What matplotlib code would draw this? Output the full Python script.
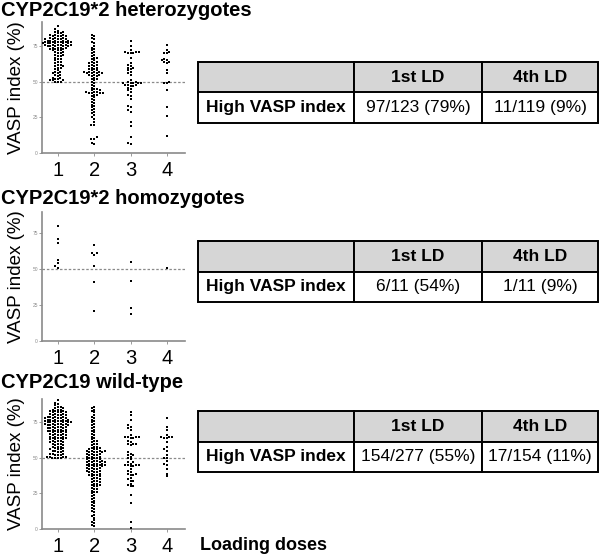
import numpy as np
import pandas as pd
import matplotlib
matplotlib.use("Agg")
import matplotlib.pyplot as plt
import seaborn as sns

plt.rcParams['font.family'] = ['Liberation Sans', 'DejaVu Sans']

doses = [1, 2, 3, 4]
titles = ["CYP2C19*2 heterozygotes", "CYP2C19*2 homozygotes", "CYP2C19 wild-type"]

het_d1 = [89, 87, 86, 85, 85, 84, 84, 83, 83, 83, 82, 82, 82, 82, 81, 81, 81, 80, 80, 80, 80, 80,
          79, 79, 79, 79, 79, 78, 78, 78, 78, 78, 78, 77, 77, 77, 77, 77, 77, 76, 76, 76, 76, 76, 76,
          75, 75, 75, 75, 75, 74, 74, 74, 74, 73, 73, 73, 72, 72, 72, 71, 71, 70, 70, 69, 69, 68, 68,
          67, 66, 66, 65, 64, 64, 63, 62, 62, 61, 61, 60, 60, 59, 58, 57, 57, 56, 56, 55, 55, 54, 53,
          53, 52, 52, 51, 51, 51, 50, 50, 50]
het_d2 = [83, 82, 81, 80, 78, 77, 75, 74, 73, 72, 71, 70, 69, 68, 67, 67, 66, 65, 64, 64, 63, 63,
          62, 62, 61, 61, 60, 60, 59, 59, 58, 58, 57, 57, 57, 57, 56, 56, 56, 56, 55, 55, 55, 54, 54,
          53, 52, 52, 51, 50, 49, 48, 47, 46, 45, 45, 44, 44, 43, 43, 43, 42, 42, 42, 42, 41, 41, 40,
          39, 38, 37, 36, 35, 34, 33, 32, 31, 30, 29, 28, 27, 25, 24, 22, 20, 20, 11, 10, 10, 7, 6]
het_d3 = [79, 75, 72, 71, 71, 71, 70, 70, 70, 67, 63, 62, 61, 60, 60, 59, 58, 57, 56, 55, 51, 50,
          50, 49, 49, 49, 49, 49, 48, 48, 48, 47, 47, 46, 45, 44, 43, 41, 40, 38, 33, 32, 30, 29, 22,
          19, 11, 7, 6]
het_d4 = [76, 72, 71, 70, 70, 66, 65, 65, 64, 64, 63, 58, 56, 50, 49, 49, 44, 32, 26, 12]

hom_d1 = [80, 71, 68, 56, 54, 52, 51]
hom_d2 = [67, 61, 61, 60, 52, 41, 21]
hom_d3 = [55, 42, 23, 19]
hom_d4 = [51]

wt_d1 = [91, 89, 88, 87, 86, 86, 85, 85, 84, 84, 84, 83, 83, 83, 82, 82, 82, 82, 81, 81, 81, 80,
         80, 80, 80, 79, 79, 79, 79, 78, 78, 78, 78, 78, 77, 77, 77, 77, 77, 76, 76, 76, 76, 76, 75,
         75, 75, 75, 75, 75, 74, 74, 74, 74, 74, 73, 73, 73, 73, 73, 72, 72, 72, 72, 71, 71, 71, 71,
         70, 70, 70, 70, 69, 69, 69, 69, 68, 68, 68, 68, 67, 67, 67, 66, 66, 66, 66, 65, 65, 65, 64,
         64, 64, 64, 63, 63, 63, 62, 62, 62, 61, 61, 61, 60, 60, 60, 59, 59, 58, 58, 58, 57, 57, 56,
         56, 56, 55, 55, 55, 54, 54, 53, 53, 53, 52, 52, 52, 51, 51, 51, 51, 50, 50, 50, 50]
wt_d2 = [86, 85, 84, 83, 82, 80, 79, 78, 77, 76, 75, 74, 73, 72, 71, 70, 69, 68, 67, 66, 65, 64,
         63, 62, 62, 61, 60, 60, 59, 58, 58, 57, 57, 56, 56, 56, 55, 55, 55, 55, 54, 54, 54, 54, 53,
         53, 53, 52, 52, 52, 51, 51, 51, 50, 50, 50, 49, 49, 49, 48, 48, 48, 48, 47, 47, 47, 47, 46,
         46, 46, 46, 45, 45, 45, 45, 44, 44, 44, 44, 43, 43, 43, 42, 42, 42, 41, 41, 41, 40, 40, 40,
         39, 39, 38, 38, 38, 37, 37, 36, 36, 35, 35, 34, 34, 33, 33, 32, 32, 31, 31, 30, 30, 29, 28,
         28, 27, 26, 26, 25, 24, 23, 22, 21, 20, 19, 18, 17, 16, 15, 14, 13, 12, 10, 9, 8, 6, 5, 4,
         3, 2]
wt_d3 = [82, 80, 77, 73, 72, 71, 70, 66, 65, 65, 65, 65, 64, 64, 62, 61, 60, 60, 60, 59, 54, 53,
         52, 52, 51, 50, 49, 47, 47, 46, 45, 45, 45, 45, 44, 44, 42, 41, 40, 39, 39, 38, 38, 36, 35,
         34, 34, 32, 31, 30, 30, 24, 18, 5, 1]
wt_d4 = [78, 72, 70, 66, 65, 65, 65, 64, 64, 61, 58, 56, 55, 52, 50, 50, 48, 46, 45, 42, 39, 37]

groups = [
    [het_d1, het_d2, het_d3, het_d4],
    [hom_d1, hom_d2, hom_d3, hom_d4],
    [wt_d1, wt_d2, wt_d3, wt_d4],
]

table_header = ["", "1st LD", "4th LD"]
row_label = "High VASP index"
table_first = ["97/123 (79%)", "6/11 (54%)", "154/277 (55%)"]
table_fourth = ["11/119 (9%)", "1/11 (9%)", "17/154 (11%)"]

yticks = [0, 25, 50, 75]
threshold = 50

W, H = 600, 555
fig = plt.figure(figsize=(W / 100, H / 100), dpi=100)

# pixel layout: (axis top, axis bottom, ymax, title y, table top, table bottom)
layouts = [
    (22, 153, 92, 10, 62, 123),
    (212, 341, 89.6, 199, 241, 302),
    (399, 529, 91.5, 382, 411, 472),
]
ax_left, ax_right = 42, 185
gray = "#8a8a8a"

for k, (top, bot, ymax, ty, tt, tb) in enumerate(layouts):
    ax = fig.add_axes([ax_left / W, 1 - bot / H, (ax_right - ax_left) / W, (bot - top) / H])
    xs, ys = [], []
    for d, vals in zip(doses, groups[k]):
        xs += [d] * len(vals)
        ys += vals
    df = pd.DataFrame({"dose": xs, "vasp": ys})
    sns.swarmplot(data=df, x="dose", y="vasp", order=doses, ax=ax, color="black",
                  size=2.0, marker="s", linewidth=0, warn_thresh=1.0)
    ax.set_xlim(-0.44, 3.5)
    ax.set_ylim(0, ymax)
    ax.axhline(threshold, color=gray, lw=0.9, ls=(0, (2, 1.5)))
    for s in ["top", "right"]:
        ax.spines[s].set_visible(False)
    for s in ["left", "bottom"]:
        ax.spines[s].set_color(gray)
        ax.spines[s].set_linewidth(1.2)
    ax.set_yticks(yticks)
    ax.set_yticklabels([str(t) for t in yticks], fontsize=3.5, color=gray)
    ax.tick_params(axis="y", length=2, width=0.6, color=gray, pad=1)
    ax.set_xticks(range(4))
    ax.set_xticklabels([str(d) for d in doses], fontsize=14.5)
    ax.tick_params(axis="x", length=2, width=0.6, color=gray, pad=4)
    ax.set_xlabel("")
    ax.set_ylabel("VASP index (%)", fontsize=13.5, labelpad=5)
    ax.set_facecolor("none")

    fig.text(1 / W, 1 - ty / H, titles[k], fontsize=14.5, fontweight="bold", va="center", ha="left")

    tax = fig.add_axes([198 / W, 1 - tb / H, 400 / W, (tb - tt) / H])
    tax.axis("off")
    tbl = tax.table(cellText=[table_header, [row_label, table_first[k], table_fourth[k]]],
                    cellLoc="center", bbox=[0, 0, 1, 1],
                    colWidths=[156, 128, 116])
    tbl.auto_set_font_size(False)
    for (r, c), cell in tbl.get_celld().items():
        cell.set_linewidth(1.4)
        cell.set_edgecolor("black")
        cell.get_text().set_fontsize(12.5)
        if r == 0:
            cell.set_facecolor("#d6d6d6")
            cell.get_text().set_fontweight("bold")
        else:
            cell.set_facecolor("white")
            if c == 0:
                cell.get_text().set_fontweight("bold")

fig.text(200 / W, 1 - 545 / H, "Loading doses", fontsize=13, fontweight="bold",
         va="center", ha="left")

fig.savefig("out.png", dpi=100)
